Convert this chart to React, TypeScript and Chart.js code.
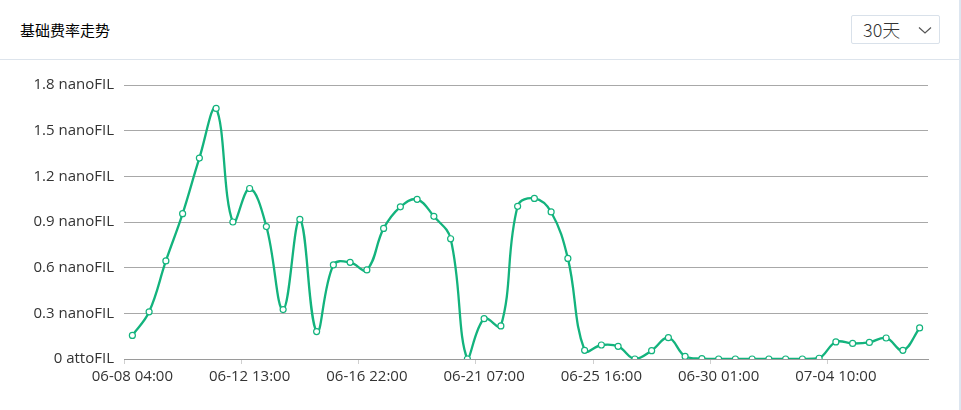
import React, { useEffect, useRef } from "react";
import { Chart, registerables } from "chart.js";

Chart.register(...registerables);

const categories: string[] = [
  "06-08 04:00", "06-08 19:00", "06-09 10:00", "06-10 01:00", "06-10 16:00", "06-11 07:00",
  "06-11 22:00", "06-12 13:00", "06-13 04:00", "06-13 19:00", "06-14 10:00", "06-15 01:00",
  "06-15 16:00", "06-16 07:00", "06-16 22:00", "06-17 13:00", "06-18 04:00", "06-18 19:00",
  "06-19 10:00", "06-20 01:00", "06-20 16:00", "06-21 07:00", "06-21 22:00", "06-22 13:00",
  "06-23 04:00", "06-23 19:00", "06-24 10:00", "06-25 01:00", "06-25 16:00", "06-26 07:00",
  "06-26 22:00", "06-27 13:00", "06-28 04:00", "06-28 19:00", "06-29 10:00", "06-30 01:00",
  "06-30 16:00", "07-01 07:00", "07-01 22:00", "07-02 13:00", "07-03 04:00", "07-03 19:00",
  "07-04 10:00", "07-05 01:00", "07-05 16:00", "07-06 07:00", "07-06 22:00", "07-07 13:00",
];

// base fee in nanoFIL
const baseFee: number[] = [
  0.155, 0.31, 0.644, 0.955, 1.32, 1.646, 0.9, 1.12, 0.87, 0.325, 0.917, 0.18,
  0.618, 0.635, 0.585, 0.858, 1.0, 1.049, 0.937, 0.79, 0.0, 0.265, 0.217, 1.003,
  1.055, 0.966, 0.661, 0.057, 0.092, 0.083, 0.0, 0.055, 0.14, 0.017, 0.003, 0.0,
  0.0, 0.0, 0.0, 0.0, 0.0, 0.005, 0.112, 0.102, 0.109, 0.138, 0.057, 0.204,
];

const yTicks: number[] = [0, 0.3, 0.6, 0.9, 1.2, 1.5, 1.8];
const labelEvery = 7;

const title = "基础费率走势";
const rangeLabel = "30天";

const GREEN = "#13b37d";
const FONT = "'Open Sans', 'Noto Sans', sans-serif";

export default function App() {
  const canvasRef = useRef<HTMLCanvasElement | null>(null);

  useEffect(() => {
    if (!canvasRef.current) return;
    const n = categories.length;
    const chart = new Chart(canvasRef.current, {
      type: "line",
      data: {
        labels: categories,
        datasets: [
          {
            data: baseFee,
            borderColor: GREEN,
            borderWidth: 2.3,
            tension: 0.4,
            pointRadius: 3,
            pointBorderWidth: 1.2,
            pointBackgroundColor: "#ffffff",
            pointBorderColor: GREEN,
            fill: false,
          },
        ],
      },
      options: {
        animation: false,
        responsive: false,
        maintainAspectRatio: false,
        layout: { padding: { top: 25, right: 33, left: 0, bottom: 0 } },
        plugins: { legend: { display: false }, tooltip: { enabled: false } },
        scales: {
          x: {
            type: "category",
            offset: true,
            afterFit: (s: any) => {
              s.height = 51;
            },
            border: { display: true, color: "#9a9a9a", width: 1 },
            grid: {
              offset: true,
              drawOnChartArea: false,
              drawTicks: true,
              tickLength: 5,
              color: (ctx: any) =>
                ctx.index % labelEvery === 0 || ctx.index === n ? "#cfcfcf" : "rgba(0,0,0,0)",
            },
            ticks: {
              autoSkip: false,
              maxRotation: 0,
              padding: 4,
              color: "#333333",
              font: { family: FONT, size: 15 },
              callback: (_v: any, i: number) => (i % labelEvery === 0 ? categories[i] : ""),
            },
          },
          y: {
            min: yTicks[0],
            max: yTicks[yTicks.length - 1],
            afterFit: (s: any) => {
              s.width = 124;
            },
            afterBuildTicks: (s: any) => {
              s.ticks = yTicks.map((v) => ({ value: v }));
            },
            border: { display: false },
            grid: { color: "#a8a8a8", drawTicks: false, lineWidth: 1 },
            ticks: {
              padding: 10,
              color: "#333333",
              font: { family: FONT, size: 15 },
              callback: (v: any) => (Number(v) === 0 ? "0 attoFIL" : `${Number(v).toFixed(1)} nanoFIL`),
            },
          },
        },
      },
    });
    return () => chart.destroy();
  }, []);

  return (
    <div
      style={{
        position: "fixed",
        left: 0,
        top: 0,
        width: 961,
        height: 410,
        background: "#ffffff",
        fontFamily: FONT,
        overflow: "hidden",
      }}
    >
      <div
        style={{
          position: "absolute",
          left: 0,
          top: 0,
          width: 959,
          height: 410,
          borderRight: "2px solid #dde6f0",
        }}
      />
      <div
        style={{
          position: "absolute",
          left: 20,
          top: 20,
          fontSize: 15,
          lineHeight: "20px",
          color: "#000000",
          fontFamily: "'Noto Sans CJK SC', sans-serif",
        }}
      >
        {title}
      </div>
      <div
        style={{
          position: "absolute",
          left: 851,
          top: 15,
          width: 87,
          height: 27,
          border: "1px solid #d9e1ea",
          borderRadius: 2,
          boxSizing: "content-box",
        }}
      >
        <span
          style={{
            position: "absolute",
            left: 11,
            top: 2,
            fontSize: 18,
            lineHeight: "23px",
            color: "#333333",
            fontFamily: "'Noto Sans CJK SC', sans-serif",
            fontWeight: 300,
          }}
        >
          {rangeLabel}
        </span>
        <svg
          style={{ position: "absolute", left: 66, top: 10 }}
          width="14"
          height="9"
          viewBox="0 0 14 9"
        >
          <polyline points="1,1.5 7,7 13,1.5" fill="none" stroke="#555" strokeWidth="1.2" />
        </svg>
      </div>
      <div
        style={{
          position: "absolute",
          left: 0,
          top: 59,
          width: 959,
          height: 1,
          background: "#dde4ec",
        }}
      />
      <canvas
        ref={canvasRef}
        width={961}
        height={350}
        style={{ position: "absolute", left: 0, top: 60, width: 961, height: 350 }}
      />
    </div>
  );
}
